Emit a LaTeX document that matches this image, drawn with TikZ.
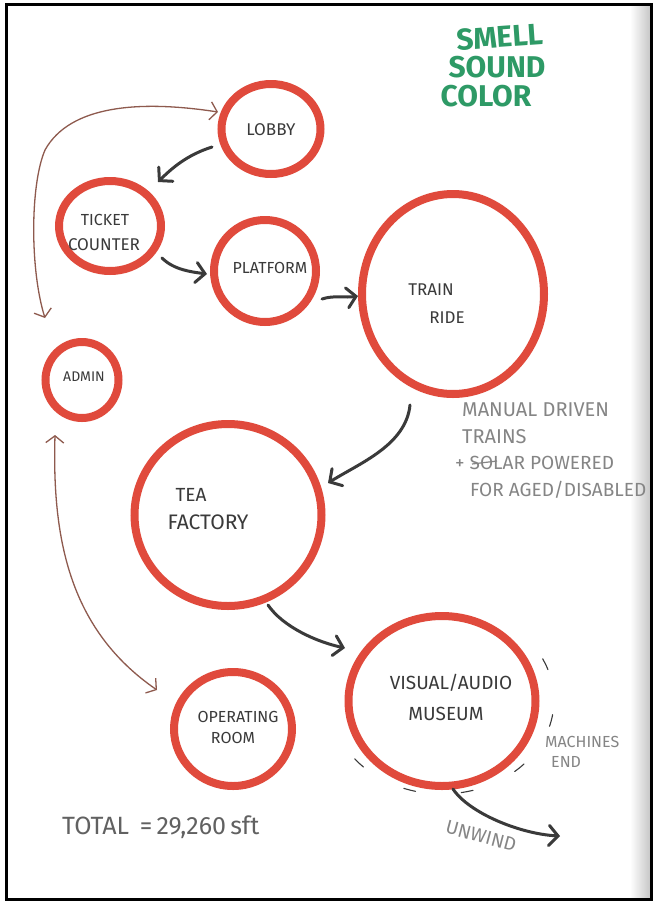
\documentclass[tikz,border=0pt]{standalone}
\usepackage{fontspec}
\setmainfont{Fira Sans}
\usetikzlibrary{arrows.meta,calc,shapes.geometric}
\definecolor{ringred}{HTML}{E04A3C}
\definecolor{pen}{HTML}{3A3A3A}
\definecolor{pencil}{HTML}{858585}
\definecolor{marker}{HTML}{2E9A66}
\definecolor{brownink}{HTML}{8E5A4E}
\definecolor{arrowink}{HTML}{3A3A3A}
\newcommand\fsz[1]{\fontsize{#1}{#1}\selectfont}
\tikzset{
  place/.style={ellipse, draw=ringred, line width=8pt, inner sep=0pt},
  lbl/.style={text=pen, inner sep=0pt},
  note/.style={text=pencil, inner sep=0pt, anchor=west, font=\fsz{19}},
  greenword/.style={text=marker, inner sep=0pt, font=\fsz{30}\bfseries},
  darr/.style={draw=arrowink, line width=3pt, line cap=round,
    -{Straight Barb[length=9pt,width=20pt,line cap=round]}},
  barr/.style={draw=brownink, line width=1.3pt, line cap=round,
    {Straight Barb[length=7pt,width=18pt]}-{Straight Barb[length=7pt,width=18pt]}},
}
\begin{document}
\begin{tikzpicture}[x=1pt,y=-1pt]
\useasboundingbox (0,0) rectangle (655,903);
\fill[white] (0,0) rectangle (655,903);
\fill[left color=white, right color=black!22] (630,6) rectangle (650,898);
\draw[black, line width=3pt] (6,4) rectangle (651,899);

% rings
\node[place, minimum width=99pt, minimum height=90pt] (lobby) at (271,129) {};
\node[place, minimum width=102pt, minimum height=90pt] (ticket) at (110,226) {};
\node[place, minimum width=102pt, minimum height=102pt] (platform) at (265,271) {};
\node[place, minimum width=182pt, minimum height=200pt] (train) at (453,294) {};
\node[place, minimum width=73pt, minimum height=76pt] (admin) at (82,380) {};
\node[place, minimum width=187pt, minimum height=182pt] (tea) at (228,515) {};
\node[place, minimum width=187pt, minimum height=170pt] (museum) at (442,701) {};
\node[place, minimum width=118pt, minimum height=114pt] (operating) at (233,729) {};

% labels
\node[lbl, font=\fsz{17}] (lobbyt) at (271,130) {LOBBY};
\node[lbl, font=\fsz{16}] (tickett) at (105,220) {TICKET};
\node[lbl, font=\fsz{17}] (countert) at (104,245) {COUNTER};
\node[lbl, font=\fsz{16}] (platformt) at (270,268) {PLATFORM};
\node[lbl, font=\fsz{17}] (traint) at (431,290) {TRAIN};
\node[lbl, font=\fsz{17}] (ridet) at (447,318) {RIDE};
\node[lbl, font=\fsz{14}] (admint) at (84,377) {ADMIN};
\node[lbl, font=\fsz{19}] (teat) at (191,495) {TEA};
\node[lbl, font=\fsz{21}] (factoryt) at (208,522) {FACTORY};
\node[lbl, font=\fsz{19}] (visualt) at (451,683) {VISUAL/AUDIO};
\node[lbl, font=\fsz{19}] (museumt) at (446,714) {MUSEUM};
\node[lbl, font=\fsz{16}] (operatingt) at (238,717) {OPERATING};
\node[lbl, font=\fsz{16}] (roomt) at (233,738) {ROOM};

% green words
\node[greenword, rotate=4] (smell) at (500,37) {SMELL};
\node[greenword] (sound) at (497,67) {SOUND};
\node[greenword] (color) at (486,96) {COLOR};

% pencil notes
\node[note, font=\fsz{20}] (n1) at (462,410) {MANUAL DRIVEN};
\node[note, font=\fsz{20}] (n2) at (462,437) {TRAINS};
\node[note] (n3) at (455,463) {+ SOLAR POWERED};
\draw[pencil, line width=1.2pt] ($(n3.west)+(17,1)$) -- ($(n3.west)+(42,-2)$);
\node[note] (n4) at (470,490) {FOR AGED/DISABLED};
\node[note, font=\fsz{16}] (n5) at (545,742) {MACHINES};
\node[note, font=\fsz{16}] (n6) at (551,762) {END};
\node[note, font=\fsz{19}, anchor=center, rotate=-15] (unwind) at (481,836) {UNWIND};
\node[note, text=pen!80, font=\fsz{25}] (total) at (62,827) {TOTAL \,=\,29,260\,sft};

% dashed machine arc
\draw[pen, line width=1.1pt, line cap=round, dash pattern=on 12pt off 46pt, dash phase=0pt]
  plot[smooth, domain=-26:152, samples=40] ({442+112*cos(\x)}, {700+94*sin(\x)});

% main flow
\draw[darr] ($(lobby)+(-59,18)$) .. controls +(-25,8) and +(14,-14) .. ($(ticket)+(48,-44)$);
\draw[darr] ($(ticket)+(52,32)$) .. controls +(12,12) and +(-15,-2) .. ($(platform)+(-58,3)$);
\draw[darr] ($(platform)+(57,28)$) .. controls +(12,-4) and +(-12,2) .. ($(train)+(-95,2)$);
\draw[darr] ($(train)+(-43,111)$) .. controls +(-4,40) and +(32,-20) .. ($(tea)+(100,-32)$);
\draw[darr] ($(tea)+(40,90)$) .. controls +(15,22) and +(-28,-6) .. ($(museum)+(-97,-53)$);
\coordinate (unwindend) at (560,836);
\draw[darr] ($(museum)+(11,88)$) .. controls +(16,24) and +(-40,-2) .. (unwindend);

% service links
\draw[barr] ($(lobby)+(-53,-17)$) .. controls (140,100) and (70,105) .. (45,150)
  .. controls (30,185) and (30,270) .. ($(admin)+(-37,-62)$);
\draw[barr] ($(admin)+(-27,55)$) .. controls (52,540) and (70,630) .. ($(operating)+(-76,-39)$);
\end{tikzpicture}
\end{document}
